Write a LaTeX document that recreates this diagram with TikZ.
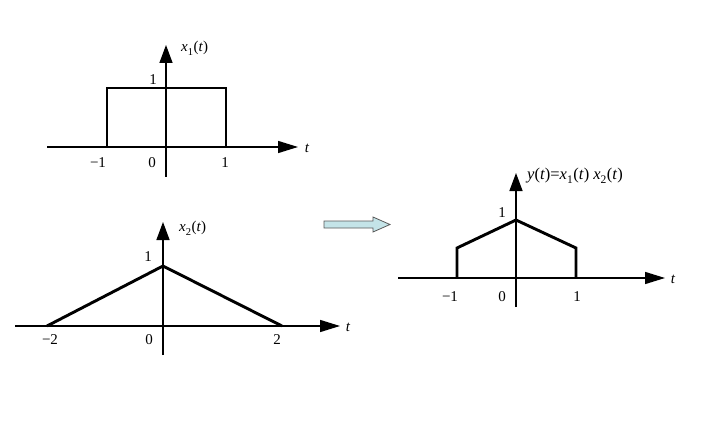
\documentclass[tikz,border=0pt]{standalone}
\usepackage{fontspec}
\setmainfont{Liberation Serif}
\usetikzlibrary{arrows.meta}
\newcommand{\vx}[1]{\textit{x}\raisebox{-0.25ex}{\textsubscript{#1}}(\textit{t})}
\definecolor{arrowfill}{RGB}{196,228,232}
\begin{document}
\begin{tikzpicture}[x=1pt,y=1pt,
  axis/.style={line width=1.5pt,-{Triangle[length=20pt,width=12pt]}},
  vaxis/.style={line width=1.5pt,-{Triangle[length=18pt,width=13pt]}},
  sig/.style={line width=2.9pt,line join=miter,line cap=butt},
  lbl/.style={inner sep=0pt,font=\fontsize{15}{17}\selectfont},
  blockarrow/.style={draw=black!65,fill=arrowfill,line width=0.8pt}]
\useasboundingbox (0,0) rectangle (713,424);
% ---------- graph 1 ----------
\coordinate (a1l) at (47,277);
\coordinate (a1r) at (298,277);
\coordinate (a1b) at (166,247);
\coordinate (a1t) at (166,379);
\draw[axis] (a1l) -- (a1r);
\draw[vaxis] (a1b) -- (a1t);
\coordinate (r1) at (107,277);
\coordinate (r2) at (107,336);
\coordinate (r3) at (226,336);
\coordinate (r4) at (226,277);
\draw[sig] (r1) -- (r2) -- (r3) -- (r4);
\node[lbl] (l1one) at (153,344) {1};
\node[lbl,anchor=west] (l1name) at (181,376) {\vx{1}};
\node[lbl] (l1m) at (98,261) {−1};
\node[lbl] (l1z) at (152,261) {0};
\node[lbl] (l1p) at (225,261) {1};
\node[lbl] (l1t) at (307,276) {\textit{t}};
% ---------- graph 2 ----------
\coordinate (a2l) at (15,98);
\coordinate (a2r) at (340,98);
\coordinate (a2b) at (163,69);
\coordinate (a2t) at (163,202);
\draw[axis] (a2l) -- (a2r);
\draw[vaxis] (a2b) -- (a2t);
\coordinate (t1) at (47,98);
\coordinate (t2) at (163,158);
\coordinate (t3) at (282,98);
\draw[sig] (t1) -- (t2) -- (t3);
\node[lbl] (l2one) at (148,167) {1};
\node[lbl,anchor=west] (l2name) at (179,196) {\vx{2}};
\node[lbl] (l2m) at (50,84) {−2};
\node[lbl] (l2z) at (149,84) {0};
\node[lbl] (l2p) at (277,84) {2};
\node[lbl] (l2t) at (348,97) {\textit{t}};
% ---------- block arrow ----------
\draw[blockarrow] (324,196) -- (373,196) -- (373,192) -- (390,199.5)
  -- (373,207) -- (373,203) -- (324,203) -- cycle;
% ---------- graph 3 ----------
\coordinate (a3l) at (398,146);
\coordinate (a3r) at (665,146);
\coordinate (a3b) at (516,117);
\coordinate (a3t) at (516,251);
\draw[axis] (a3l) -- (a3r);
\draw[vaxis] (a3b) -- (a3t);
\coordinate (y1) at (457,146);
\coordinate (y2) at (457,176);
\coordinate (y3) at (516,204);
\coordinate (y4) at (576,176);
\coordinate (y5) at (576,146);
\draw[sig] (y1) -- (y2) -- (y3) -- (y4) -- (y5);
\node[lbl] (l3one) at (502,211) {1};
\node[lbl,anchor=west,font=\fontsize{16.5}{18}\selectfont] (l3name) at (527,248) {\textit{y}(\textit{t})=\vx{1} \vx{2}};
\node[lbl] (l3m) at (450,127) {−1};
\node[lbl] (l3z) at (502,127) {0};
\node[lbl] (l3p) at (577,127) {1};
\node[lbl] (l3t) at (673,145) {\textit{t}};
\end{tikzpicture}
\end{document}
